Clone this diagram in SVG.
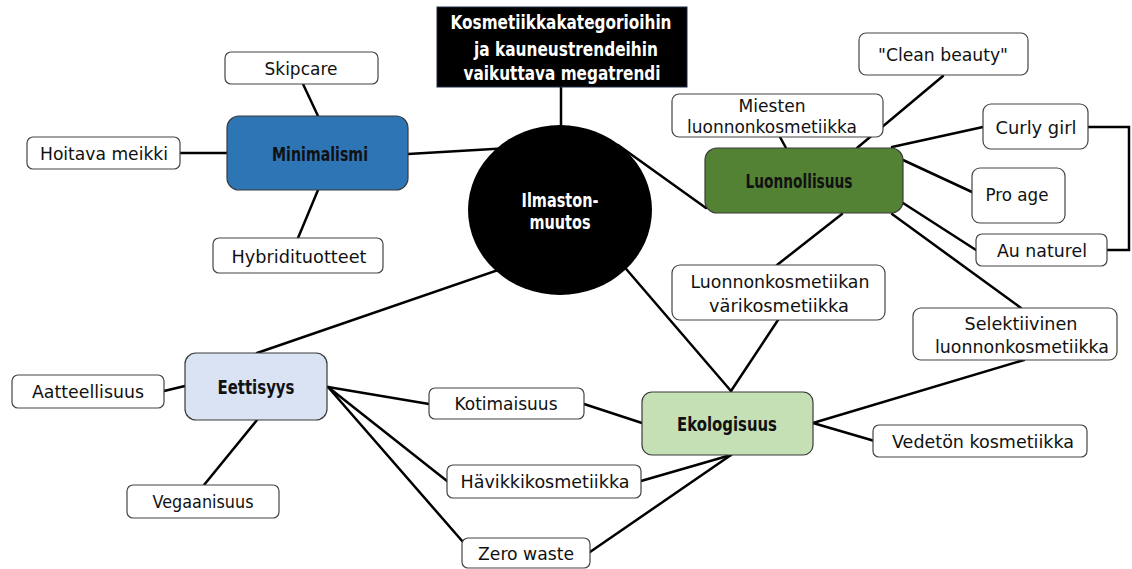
<svg xmlns="http://www.w3.org/2000/svg" width="1132" height="569" viewBox="0 0 1132 569">
  <style>
    .conn line, .conn polyline { stroke: #000; stroke-width: 2.5; fill: none; stroke-linecap: round; }
    .leaf rect { fill: #fff; stroke: #444; stroke-width: 1.2; }
    .t { font-family: "DejaVu Sans", "Liberation Sans", sans-serif; font-size: 18px; fill: #111; text-anchor: middle; }
    .hb { font-family: "DejaVu Sans", "Liberation Sans", sans-serif; font-size: 19.5px; font-weight: bold; fill: #111; text-anchor: middle; }
    .w { font-family: "DejaVu Sans", "Liberation Sans", sans-serif; font-size: 19px; font-weight: bold; fill: #fff; text-anchor: middle; }
    .hub { stroke: #3a3a3a; stroke-width: 1.2; }
  </style>
  <rect width="1132" height="569" fill="#fff"/>

  <!-- connectors -->
  <g id="connectors" class="conn">
    <line x1="561" y1="87" x2="561" y2="140"/>
    <line x1="303" y1="84" x2="318" y2="116"/>
    <line x1="180" y1="153" x2="227" y2="153"/>
    <line x1="298" y1="238" x2="318" y2="190"/>
    <line x1="408" y1="154" x2="510" y2="148"/>
    <line x1="618" y1="145" x2="706" y2="208"/>
    <line x1="780" y1="137" x2="786" y2="148"/>
    <line x1="857" y1="148" x2="943" y2="76"/>
    <line x1="892" y1="147" x2="983" y2="127"/>
    <line x1="903" y1="160" x2="972" y2="192"/>
    <line x1="903" y1="203" x2="976" y2="250"/>
    <line x1="892" y1="214" x2="1021" y2="308"/>
    <line x1="842" y1="214" x2="777" y2="265"/>
    <polyline points="1088,127 1129,127 1129,250 1107,250"/>
    <line x1="615" y1="256" x2="731" y2="391"/>
    <line x1="778" y1="320" x2="731" y2="391"/>
    <line x1="1024" y1="360" x2="813" y2="423"/>
    <line x1="813" y1="423" x2="878" y2="442"/>
    <line x1="584" y1="404" x2="642" y2="423"/>
    <line x1="641" y1="481" x2="731" y2="455"/>
    <line x1="590" y1="552" x2="731" y2="455"/>
    <line x1="510" y1="266" x2="257" y2="353"/>
    <line x1="164" y1="391" x2="185" y2="386"/>
    <line x1="204" y1="485" x2="257" y2="420"/>
    <line x1="328" y1="387" x2="429" y2="404"/>
    <line x1="328" y1="387" x2="447" y2="481"/>
    <line x1="328" y1="387" x2="463" y2="542"/>
  </g>

  <!-- title box -->
  <g id="megatrendi">
    <rect x="437" y="7" width="250" height="80" fill="#000" stroke="#1f2a44" stroke-width="1"/>
    <text class="w" x="561" y="29" textLength="221" lengthAdjust="spacingAndGlyphs">Kosmetiikkakategorioihin</text>
    <text class="w" x="566" y="56" textLength="184" lengthAdjust="spacingAndGlyphs">ja kauneustrendeihin</text>
    <text class="w" x="562" y="80" textLength="197" lengthAdjust="spacingAndGlyphs">vaikuttava megatrendi</text>
  </g>

  <!-- central node -->
  <g id="ilmastonmuutos">
    <ellipse cx="560" cy="210" rx="92" ry="85" fill="#000"/>
    <text class="w" x="560" y="207" textLength="77" lengthAdjust="spacingAndGlyphs">Ilmaston-</text>
    <text class="w" x="560" y="229" textLength="61" lengthAdjust="spacingAndGlyphs">muutos</text>
  </g>

  <!-- Minimalismi branch -->
  <g id="minimalismi">
    <rect class="hub" x="227" y="116" width="181" height="74" rx="12" fill="#2e75b6" stroke="#2a5a86"/>
    <text class="hb" x="320" y="161" textLength="96" lengthAdjust="spacingAndGlyphs">Minimalismi</text>
  </g>
  <g id="skipcare" class="leaf">
    <rect x="225" y="52" width="153" height="32" rx="6"/>
    <text class="t" x="301" y="75" textLength="73" lengthAdjust="spacingAndGlyphs">Skipcare</text>
  </g>
  <g id="hoitava-meikki" class="leaf">
    <rect x="27" y="137" width="153" height="32" rx="6"/>
    <text class="t" x="104" y="160" textLength="128" lengthAdjust="spacingAndGlyphs">Hoitava meikki</text>
  </g>
  <g id="hybridituotteet" class="leaf">
    <rect x="213" y="238" width="170" height="35" rx="6"/>
    <text class="t" x="299" y="263" textLength="135" lengthAdjust="spacingAndGlyphs">Hybridituotteet</text>
  </g>

  <!-- Luonnollisuus branch -->
  <g id="luonnollisuus">
    <rect class="hub" x="705" y="148" width="198" height="65" rx="12" fill="#548235" stroke="#3d5f27"/>
    <text class="hb" x="799" y="188" textLength="107" lengthAdjust="spacingAndGlyphs">Luonnollisuus</text>
  </g>
  <g id="clean-beauty" class="leaf">
    <rect x="859" y="33" width="169" height="42" rx="7"/>
    <text class="t" x="943" y="61" textLength="130" lengthAdjust="spacingAndGlyphs">"Clean beauty"</text>
  </g>
  <g id="miesten" class="leaf">
    <rect x="672" y="94" width="211" height="43" rx="7"/>
    <text class="t" x="772" y="112" textLength="67" lengthAdjust="spacingAndGlyphs">Miesten</text>
    <text class="t" x="772" y="133" textLength="170" lengthAdjust="spacingAndGlyphs">luonnonkosmetiikka</text>
  </g>
  <g id="curly-girl" class="leaf">
    <rect x="983" y="104" width="105" height="45" rx="8"/>
    <text class="t" x="1036" y="134" textLength="81" lengthAdjust="spacingAndGlyphs">Curly girl</text>
  </g>
  <g id="pro-age" class="leaf">
    <rect x="972" y="168" width="93" height="55" rx="8"/>
    <text class="t" x="1017" y="201" textLength="63" lengthAdjust="spacingAndGlyphs">Pro age</text>
  </g>
  <g id="au-naturel" class="leaf">
    <rect x="976" y="234" width="131" height="32" rx="6"/>
    <text class="t" x="1042" y="257" textLength="90" lengthAdjust="spacingAndGlyphs">Au naturel</text>
  </g>
  <g id="varikosmetiikka" class="leaf">
    <rect x="672" y="265" width="213" height="55" rx="8"/>
    <text class="t" x="780" y="288" textLength="179" lengthAdjust="spacingAndGlyphs">Luonnonkosmetiikan</text>
    <text class="t" x="779" y="312" textLength="140" lengthAdjust="spacingAndGlyphs">värikosmetiikka</text>
  </g>
  <g id="selektiivinen" class="leaf">
    <rect x="913" y="308" width="204" height="52" rx="8"/>
    <text class="t" x="1021" y="330" textLength="113" lengthAdjust="spacingAndGlyphs">Selektiivinen</text>
    <text class="t" x="1022" y="353" textLength="174" lengthAdjust="spacingAndGlyphs">luonnonkosmetiikka</text>
  </g>

  <!-- Ekologisuus branch -->
  <g id="ekologisuus">
    <rect class="hub" x="642" y="392" width="171" height="63" rx="10" fill="#c5e0b4"/>
    <text class="hb" x="727" y="431" textLength="100" lengthAdjust="spacingAndGlyphs">Ekologisuus</text>
  </g>
  <g id="kotimaisuus" class="leaf">
    <rect x="429" y="388" width="155" height="31" rx="6"/>
    <text class="t" x="506" y="410" textLength="103" lengthAdjust="spacingAndGlyphs">Kotimaisuus</text>
  </g>
  <g id="vedeton" class="leaf">
    <rect x="873" y="425" width="214" height="32" rx="6"/>
    <text class="t" x="983" y="448" textLength="182" lengthAdjust="spacingAndGlyphs">Vedetön kosmetiikka</text>
  </g>
  <g id="havikkikosmetiikka" class="leaf">
    <rect x="447" y="465" width="194" height="33" rx="6"/>
    <text class="t" x="545" y="488" textLength="169" lengthAdjust="spacingAndGlyphs">Hävikkikosmetiikka</text>
  </g>
  <g id="zero-waste" class="leaf">
    <rect x="462" y="538" width="128" height="30" rx="6"/>
    <text class="t" x="526" y="560" textLength="96" lengthAdjust="spacingAndGlyphs">Zero waste</text>
  </g>

  <!-- Eettisyys branch -->
  <g id="eettisyys">
    <rect class="hub" x="185" y="353" width="142" height="67" rx="11" fill="#dae3f3"/>
    <text class="hb" x="256" y="394" textLength="77" lengthAdjust="spacingAndGlyphs">Eettisyys</text>
  </g>
  <g id="aatteellisuus" class="leaf">
    <rect x="12" y="375" width="152" height="33" rx="6"/>
    <text class="t" x="88" y="398" textLength="112" lengthAdjust="spacingAndGlyphs">Aatteellisuus</text>
  </g>
  <g id="vegaanisuus" class="leaf">
    <rect x="127" y="485" width="152" height="33" rx="6"/>
    <text class="t" x="203" y="508" textLength="101" lengthAdjust="spacingAndGlyphs">Vegaanisuus</text>
  </g>
</svg>
